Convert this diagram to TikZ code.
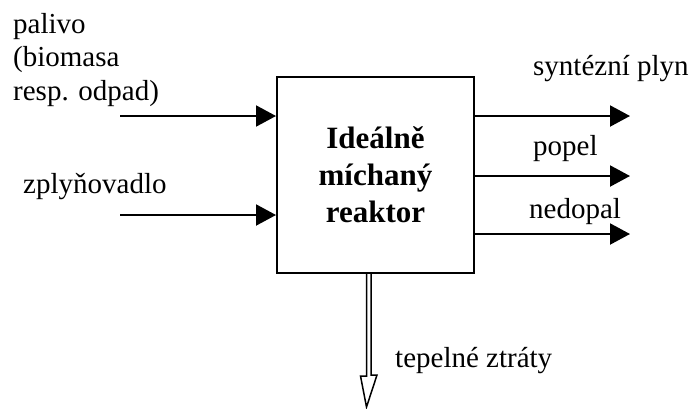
\documentclass[tikz,border=0pt]{standalone}
\usepackage{fontspec}
\setmainfont{Liberation Serif}
\usetikzlibrary{arrows.meta,calc}
\begin{document}
\begin{tikzpicture}[x=1pt,y=-1pt,
  lbl/.style={font=\fontsize{29}{33.5}\selectfont, inner sep=0pt, anchor=base west},
  flow/.style={line width=2pt, -{Triangle[length=20pt,width=21pt]}},
  reactorbox/.style={draw, line width=2pt, minimum width=197pt, minimum height=196pt,
    inner sep=0pt, align=center, font=\fontsize{31}{37}\selectfont\bfseries},
  heatarrow/.style={line width=1.5pt, line join=miter}]
\useasboundingbox (0,0) rectangle (692,408);

% reactor
\node[reactorbox] (reactor) at (375.5,175) {Ideálně\\míchaný\\reaktor};

% inputs (multi-line label sits on the baseline of its last line)
\node[lbl, align=left] (fuel) at (13,100) {palivo\\(biomasa\\resp. odpad)};
\node[lbl] (agent) at (23,193) {zplyňovadlo};
\coordinate (in1) at (120,116);
\coordinate (in2) at (120,215);
\draw[flow] (in1) -- (reactor.west |- in1);
\draw[flow] (in2) -- (reactor.west |- in2);

% outputs
\coordinate (out1) at (630,116);
\coordinate (out2) at (630,176);
\coordinate (out3) at (630,234);
\draw[flow] (reactor.east |- out1) -- (out1);
\draw[flow] (reactor.east |- out2) -- (out2);
\draw[flow] (reactor.east |- out3) -- (out3);
\node[lbl] (syngas) at (533,75) {syntézní plyn};
\node[lbl] (ash) at (533,155) {popel};
\node[lbl] (char) at (529,218) {nedopal};

% heat losses: hollow arrow leaving the bottom
\coordinate (hs) at ($(reactor.south)+(-9,0)$);
\coordinate (tip) at (366.5,407);
\draw[heatarrow] (hs |- reactor.south) -- ++(0,102) -- ++(-6,0) -- (tip)
  -- ($(tip)+(10.5,-32)$) -- ++(-6,0) -- ++(0,-102);
\node[lbl] (heat) at (395,367) {tepelné ztráty};
\end{tikzpicture}
\end{document}
